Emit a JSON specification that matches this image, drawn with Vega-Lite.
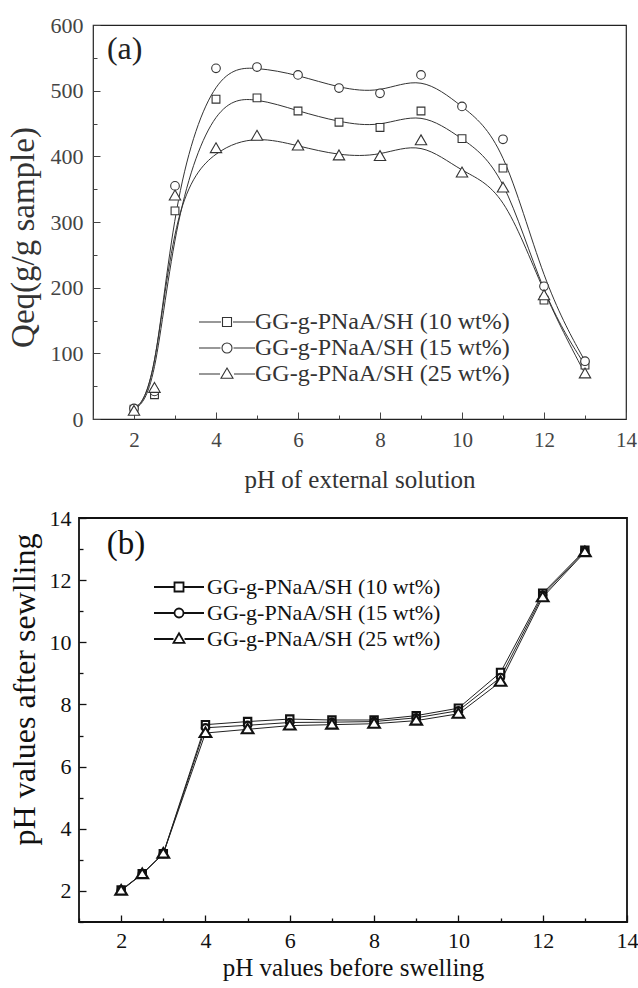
{
  "$schema": "https://vega.github.io/schema/vega-lite/v6.json",
  "background": "white",
  "padding": {"left": 6, "top": 13, "right": 0, "bottom": 0},
  "config": {
    "font": "Liberation Serif",
    "axis": {
      "labelFont": "Liberation Serif",
      "titleFont": "Liberation Serif",
      "titleFontWeight": "normal",
      "grid": false,
      "domain": false,
      "labelOverlap": false,
      "labelFlush": false
    },
    "legend": {
      "labelFont": "Liberation Serif",
      "labelLimit": 0
    }
  },
  "datasets": {
    "swelling": [
      {"pH": 2, "Q": 15, "series": "GG-g-PNaA/SH (10 wt%)"},
      {"pH": 2.5, "Q": 37, "series": "GG-g-PNaA/SH (10 wt%)"},
      {"pH": 3, "Q": 317, "series": "GG-g-PNaA/SH (10 wt%)"},
      {"pH": 4, "Q": 487, "series": "GG-g-PNaA/SH (10 wt%)"},
      {"pH": 5, "Q": 489, "series": "GG-g-PNaA/SH (10 wt%)"},
      {"pH": 6, "Q": 469, "series": "GG-g-PNaA/SH (10 wt%)"},
      {"pH": 7, "Q": 452, "series": "GG-g-PNaA/SH (10 wt%)"},
      {"pH": 8, "Q": 444, "series": "GG-g-PNaA/SH (10 wt%)"},
      {"pH": 9, "Q": 469, "series": "GG-g-PNaA/SH (10 wt%)"},
      {"pH": 10, "Q": 427, "series": "GG-g-PNaA/SH (10 wt%)"},
      {"pH": 11, "Q": 382, "series": "GG-g-PNaA/SH (10 wt%)"},
      {"pH": 12, "Q": 181, "series": "GG-g-PNaA/SH (10 wt%)"},
      {"pH": 13, "Q": 82, "series": "GG-g-PNaA/SH (10 wt%)"},
      {"pH": 2, "Q": 16, "series": "GG-g-PNaA/SH (15 wt%)"},
      {"pH": 2.5, "Q": 42, "series": "GG-g-PNaA/SH (15 wt%)"},
      {"pH": 3, "Q": 355, "series": "GG-g-PNaA/SH (15 wt%)"},
      {"pH": 4, "Q": 534, "series": "GG-g-PNaA/SH (15 wt%)"},
      {"pH": 5, "Q": 536, "series": "GG-g-PNaA/SH (15 wt%)"},
      {"pH": 6, "Q": 524, "series": "GG-g-PNaA/SH (15 wt%)"},
      {"pH": 7, "Q": 504, "series": "GG-g-PNaA/SH (15 wt%)"},
      {"pH": 8, "Q": 496, "series": "GG-g-PNaA/SH (15 wt%)"},
      {"pH": 9, "Q": 524, "series": "GG-g-PNaA/SH (15 wt%)"},
      {"pH": 10, "Q": 476, "series": "GG-g-PNaA/SH (15 wt%)"},
      {"pH": 11, "Q": 426, "series": "GG-g-PNaA/SH (15 wt%)"},
      {"pH": 12, "Q": 202, "series": "GG-g-PNaA/SH (15 wt%)"},
      {"pH": 13, "Q": 88, "series": "GG-g-PNaA/SH (15 wt%)"},
      {"pH": 2, "Q": 12, "series": "GG-g-PNaA/SH (25 wt%)"},
      {"pH": 2.5, "Q": 47, "series": "GG-g-PNaA/SH (25 wt%)"},
      {"pH": 3, "Q": 340, "series": "GG-g-PNaA/SH (25 wt%)"},
      {"pH": 4, "Q": 412, "series": "GG-g-PNaA/SH (25 wt%)"},
      {"pH": 5, "Q": 431, "series": "GG-g-PNaA/SH (25 wt%)"},
      {"pH": 6, "Q": 416, "series": "GG-g-PNaA/SH (25 wt%)"},
      {"pH": 7, "Q": 401, "series": "GG-g-PNaA/SH (25 wt%)"},
      {"pH": 8, "Q": 400, "series": "GG-g-PNaA/SH (25 wt%)"},
      {"pH": 9, "Q": 424, "series": "GG-g-PNaA/SH (25 wt%)"},
      {"pH": 10, "Q": 375, "series": "GG-g-PNaA/SH (25 wt%)"},
      {"pH": 11, "Q": 352, "series": "GG-g-PNaA/SH (25 wt%)"},
      {"pH": 12, "Q": 188, "series": "GG-g-PNaA/SH (25 wt%)"},
      {"pH": 13, "Q": 69, "series": "GG-g-PNaA/SH (25 wt%)"}
    ],
    "afterSwelling": [
      {"before": 2, "after": 2.03, "series": "GG-g-PNaA/SH (10 wt%)"},
      {"before": 2.5, "after": 2.55, "series": "GG-g-PNaA/SH (10 wt%)"},
      {"before": 3, "after": 3.2, "series": "GG-g-PNaA/SH (10 wt%)"},
      {"before": 4, "after": 7.35, "series": "GG-g-PNaA/SH (10 wt%)"},
      {"before": 5, "after": 7.45, "series": "GG-g-PNaA/SH (10 wt%)"},
      {"before": 6, "after": 7.53, "series": "GG-g-PNaA/SH (10 wt%)"},
      {"before": 7, "after": 7.5, "series": "GG-g-PNaA/SH (10 wt%)"},
      {"before": 8, "after": 7.5, "series": "GG-g-PNaA/SH (10 wt%)"},
      {"before": 9, "after": 7.64, "series": "GG-g-PNaA/SH (10 wt%)"},
      {"before": 10, "after": 7.88, "series": "GG-g-PNaA/SH (10 wt%)"},
      {"before": 11, "after": 9.03, "series": "GG-g-PNaA/SH (10 wt%)"},
      {"before": 12, "after": 11.58, "series": "GG-g-PNaA/SH (10 wt%)"},
      {"before": 13, "after": 12.96, "series": "GG-g-PNaA/SH (10 wt%)"},
      {"before": 2, "after": 2.02, "series": "GG-g-PNaA/SH (15 wt%)"},
      {"before": 2.5, "after": 2.55, "series": "GG-g-PNaA/SH (15 wt%)"},
      {"before": 3, "after": 3.2, "series": "GG-g-PNaA/SH (15 wt%)"},
      {"before": 4, "after": 7.25, "series": "GG-g-PNaA/SH (15 wt%)"},
      {"before": 5, "after": 7.33, "series": "GG-g-PNaA/SH (15 wt%)"},
      {"before": 6, "after": 7.42, "series": "GG-g-PNaA/SH (15 wt%)"},
      {"before": 7, "after": 7.43, "series": "GG-g-PNaA/SH (15 wt%)"},
      {"before": 8, "after": 7.45, "series": "GG-g-PNaA/SH (15 wt%)"},
      {"before": 9, "after": 7.57, "series": "GG-g-PNaA/SH (15 wt%)"},
      {"before": 10, "after": 7.8, "series": "GG-g-PNaA/SH (15 wt%)"},
      {"before": 11, "after": 8.87, "series": "GG-g-PNaA/SH (15 wt%)"},
      {"before": 12, "after": 11.52, "series": "GG-g-PNaA/SH (15 wt%)"},
      {"before": 13, "after": 12.93, "series": "GG-g-PNaA/SH (15 wt%)"},
      {"before": 2, "after": 2.01, "series": "GG-g-PNaA/SH (25 wt%)"},
      {"before": 2.5, "after": 2.54, "series": "GG-g-PNaA/SH (25 wt%)"},
      {"before": 3, "after": 3.2, "series": "GG-g-PNaA/SH (25 wt%)"},
      {"before": 4, "after": 7.08, "series": "GG-g-PNaA/SH (25 wt%)"},
      {"before": 5, "after": 7.2, "series": "GG-g-PNaA/SH (25 wt%)"},
      {"before": 6, "after": 7.32, "series": "GG-g-PNaA/SH (25 wt%)"},
      {"before": 7, "after": 7.35, "series": "GG-g-PNaA/SH (25 wt%)"},
      {"before": 8, "after": 7.38, "series": "GG-g-PNaA/SH (25 wt%)"},
      {"before": 9, "after": 7.48, "series": "GG-g-PNaA/SH (25 wt%)"},
      {"before": 10, "after": 7.7, "series": "GG-g-PNaA/SH (25 wt%)"},
      {"before": 11, "after": 8.73, "series": "GG-g-PNaA/SH (25 wt%)"},
      {"before": 12, "after": 11.45, "series": "GG-g-PNaA/SH (25 wt%)"},
      {"before": 13, "after": 12.9, "series": "GG-g-PNaA/SH (25 wt%)"}
    ]
  },
  "spacing": 13,
  "vconcat": [
    {
      "hconcat": [
        {
          "width": 14,
          "height": 10,
          "data": {"values": [{}]},
          "mark": {"type": "text", "text": ""},
          "view": {"stroke": null}
        },
        {
          "width": 533,
          "height": 394,
          "view": {"stroke": "#222", "strokeWidth": 1.2},
          "encoding": {
            "x": {
              "field": "pH", "type": "quantitative",
              "scale": {"domain": [1, 14], "nice": false, "zero": false},
              "axis": {
                "title": "pH of external solution",
                "values": [1, 2, 3, 4, 5, 6, 7, 8, 9, 10, 11, 12, 13, 14],
                "labelExpr": "datum.value % 2 === 0 ? datum.label : ''",
                "tickSize": {"condition": {"test": "datum.value % 2 === 0", "value": -7}, "value": -4},
                "tickColor": "#444",
                "labelFontSize": 21, "labelColor": "#444", "labelPadding": 17,
                "titleFontSize": 25, "titleColor": "#333", "titlePadding": 14
              }
            },
            "y": {
              "field": "Q", "type": "quantitative",
              "scale": {"domain": [0, 600], "nice": false},
              "axis": {
                "title": "Qeq(g/g sample)",
                "values": [0, 50, 100, 150, 200, 250, 300, 350, 400, 450, 500, 550, 600],
                "labelExpr": "datum.value % 100 === 0 ? datum.label : ''",
                "tickSize": {"condition": {"test": "datum.value % 100 === 0", "value": -7}, "value": -4},
                "tickColor": "#444",
                "labelFontSize": 22, "labelColor": "#444", "labelPadding": 17,
                "titleFontSize": 33, "titleColor": "#333", "titlePadding": 10, "titleY": 212
              }
            }
          },
          "layer": [
            {
              "data": {"name": "swelling"},
              "mark": {"type": "line", "interpolate": "basis", "stroke": "#333", "strokeWidth": 1},
              "encoding": {"detail": {"field": "series"}}
            },
            {
              "data": {"name": "swelling"},
              "mark": {"type": "point", "filled": false, "fill": "white", "fillOpacity": 1, "stroke": "#333", "strokeWidth": 1.1, "size": 144, "opacity": 1},
              "encoding": {
                "shape": {
                  "field": "series",
                  "scale": {
                    "domain": ["GG-g-PNaA/SH (10 wt%)", "GG-g-PNaA/SH (15 wt%)", "GG-g-PNaA/SH (25 wt%)"],
                    "range": [
                      "M-0.65,-0.65H0.65V0.65H-0.65Z",
                      "M0.72,0A0.72,0.72,0,1,1,-0.72,0A0.72,0.72,0,1,1,0.72,0Z",
                      "M0,-0.95L0.95,0.7L-0.95,0.7Z"
                    ]
                  },
                  "legend": null
                }
              }
            },
            {
              "data": {"name": "swelling"},
              "mark": {"type": "point", "opacity": 0, "size": 1},
              "encoding": {
                "shape": {
                  "field": "series",
                  "scale": {
                    "domain": ["GG-g-PNaA/SH (10 wt%)", "GG-g-PNaA/SH (15 wt%)", "GG-g-PNaA/SH (25 wt%)"],
                    "range": [
                      "M-1,0H1.2M2.4,0H4.6M1.35,-0.45H2.25V0.45H1.35Z",
                      "M-1,0H1.15M2.45,0H4.6M2.3,0A0.5,0.5,0,1,1,1.3,0A0.5,0.5,0,1,1,2.3,0Z",
                      "M-1,0H1.1M2.5,0H4.6M1.8,-0.6L2.4,0.42L1.2,0.42Z"
                    ]
                  },
                  "legend": {
                    "title": null, "orient": "none", "legendX": 104, "legendY": 285,
                    "symbolSize": 400, "symbolOpacity": 1, "symbolFillColor": "white",
                    "symbolStrokeColor": "#333", "symbolStrokeWidth": 1.1,
                    "labelFontSize": 24, "labelColor": "#333", "labelOffset": 34, "rowPadding": 2
                  }
                }
              }
            },
            {
              "data": {"values": [{"panel": "(a)", "pH": 1.34, "Q": 548}]},
              "mark": {"type": "text", "align": "left", "baseline": "alphabetic", "font": "Liberation Serif", "fontSize": 32, "fill": "#222"},
              "encoding": {"text": {"field": "panel", "type": "nominal"}}
            }
          ],
          "resolve": {"scale": {"shape": "independent"}}
        }
      ],
      "spacing": 0,
      "bounds": "flush"
    },
    {
      "width": 548,
      "height": 404,
      "view": {"stroke": "#111", "strokeWidth": 1.8},
      "encoding": {
        "x": {
          "field": "before", "type": "quantitative",
          "scale": {"domain": [1, 14], "nice": false, "zero": false},
          "axis": {
            "title": "pH values before swelling",
            "values": [1, 2, 3, 4, 5, 6, 7, 8, 9, 10, 11, 12, 13, 14],
            "labelExpr": "datum.value % 2 === 0 ? datum.label : ''",
            "tickSize": {"condition": {"test": "datum.value % 2 === 0", "value": -7}, "value": -4},
            "tickColor": "#111", "tickWidth": 1.3,
            "labelFontSize": 22, "labelColor": "#111", "labelPadding": 15,
            "titleFontSize": 25, "titleColor": "#111", "titlePadding": 1
          }
        },
        "y": {
          "field": "after", "type": "quantitative",
          "scale": {"domain": [1, 14], "nice": false, "zero": false},
          "axis": {
            "title": "pH values after sewlling",
            "values": [1, 2, 3, 4, 5, 6, 7, 8, 9, 10, 11, 12, 13, 14],
            "labelExpr": "datum.value % 2 === 0 ? datum.label : ''",
            "tickSize": {"condition": {"test": "datum.value % 2 === 0", "value": -7}, "value": -4},
            "tickColor": "#111", "tickWidth": 1.3,
            "labelFontSize": 22, "labelColor": "#111", "labelPadding": 15,
            "titleFontSize": 32, "titleColor": "#111", "titlePadding": 8, "titleY": 171
          }
        }
      },
      "layer": [
        {
          "data": {"name": "afterSwelling"},
          "mark": {"type": "line", "stroke": "#222", "strokeWidth": 1},
          "encoding": {"detail": {"field": "series"}}
        },
        {
          "data": {"name": "afterSwelling"},
          "mark": {"type": "point", "filled": false, "fill": "white", "fillOpacity": 1, "stroke": "#111", "strokeWidth": 2.1, "size": 150, "opacity": 1},
          "encoding": {
            "shape": {
              "field": "series",
              "scale": {
                "domain": ["GG-g-PNaA/SH (10 wt%)", "GG-g-PNaA/SH (15 wt%)", "GG-g-PNaA/SH (25 wt%)"],
                "range": [
                  "M-0.6,-0.6H0.6V0.6H-0.6Z",
                  "M0.6,0A0.6,0.6,0,1,1,-0.6,0A0.6,0.6,0,1,1,0.6,0Z",
                  "M0,-0.9L0.95,0.65L-0.95,0.65Z"
                ]
              },
              "legend": null
            }
          }
        },
        {
          "data": {"name": "afterSwelling"},
          "mark": {"type": "point", "opacity": 0, "size": 1},
          "encoding": {
            "shape": {
              "field": "series",
              "scale": {
                "domain": ["GG-g-PNaA/SH (10 wt%)", "GG-g-PNaA/SH (15 wt%)", "GG-g-PNaA/SH (25 wt%)"],
                "range": [
                  "M-1,0H1M2,0H4M1.05,-0.45H1.95V0.45H1.05Z",
                  "M-1,0H1M2,0H4M1.95,0A0.45,0.45,0,1,1,1.05,0A0.45,0.45,0,1,1,1.95,0Z",
                  "M-1,0H0.95M2.05,0H4M1.5,-0.58L2.05,0.38L0.95,0.38Z"
                ]
              },
              "legend": {
                "title": null, "orient": "none", "legendX": 74, "legendY": 58,
                "symbolSize": 400, "symbolOpacity": 1, "symbolFillColor": "white",
                "symbolStrokeColor": "#111", "symbolStrokeWidth": 1.8,
                "labelFontSize": 22, "labelColor": "#111", "labelOffset": 32, "rowPadding": 4
              }
            }
          }
        },
        {
          "data": {"values": [{"panel": "(b)", "before": 1.66, "after": 12.84}]},
          "mark": {"type": "text", "align": "left", "baseline": "alphabetic", "font": "Liberation Serif", "fontSize": 33, "fill": "#111"},
          "encoding": {"text": {"field": "panel", "type": "nominal"}}
        }
      ],
      "resolve": {"scale": {"shape": "independent"}}
    }
  ]
}
